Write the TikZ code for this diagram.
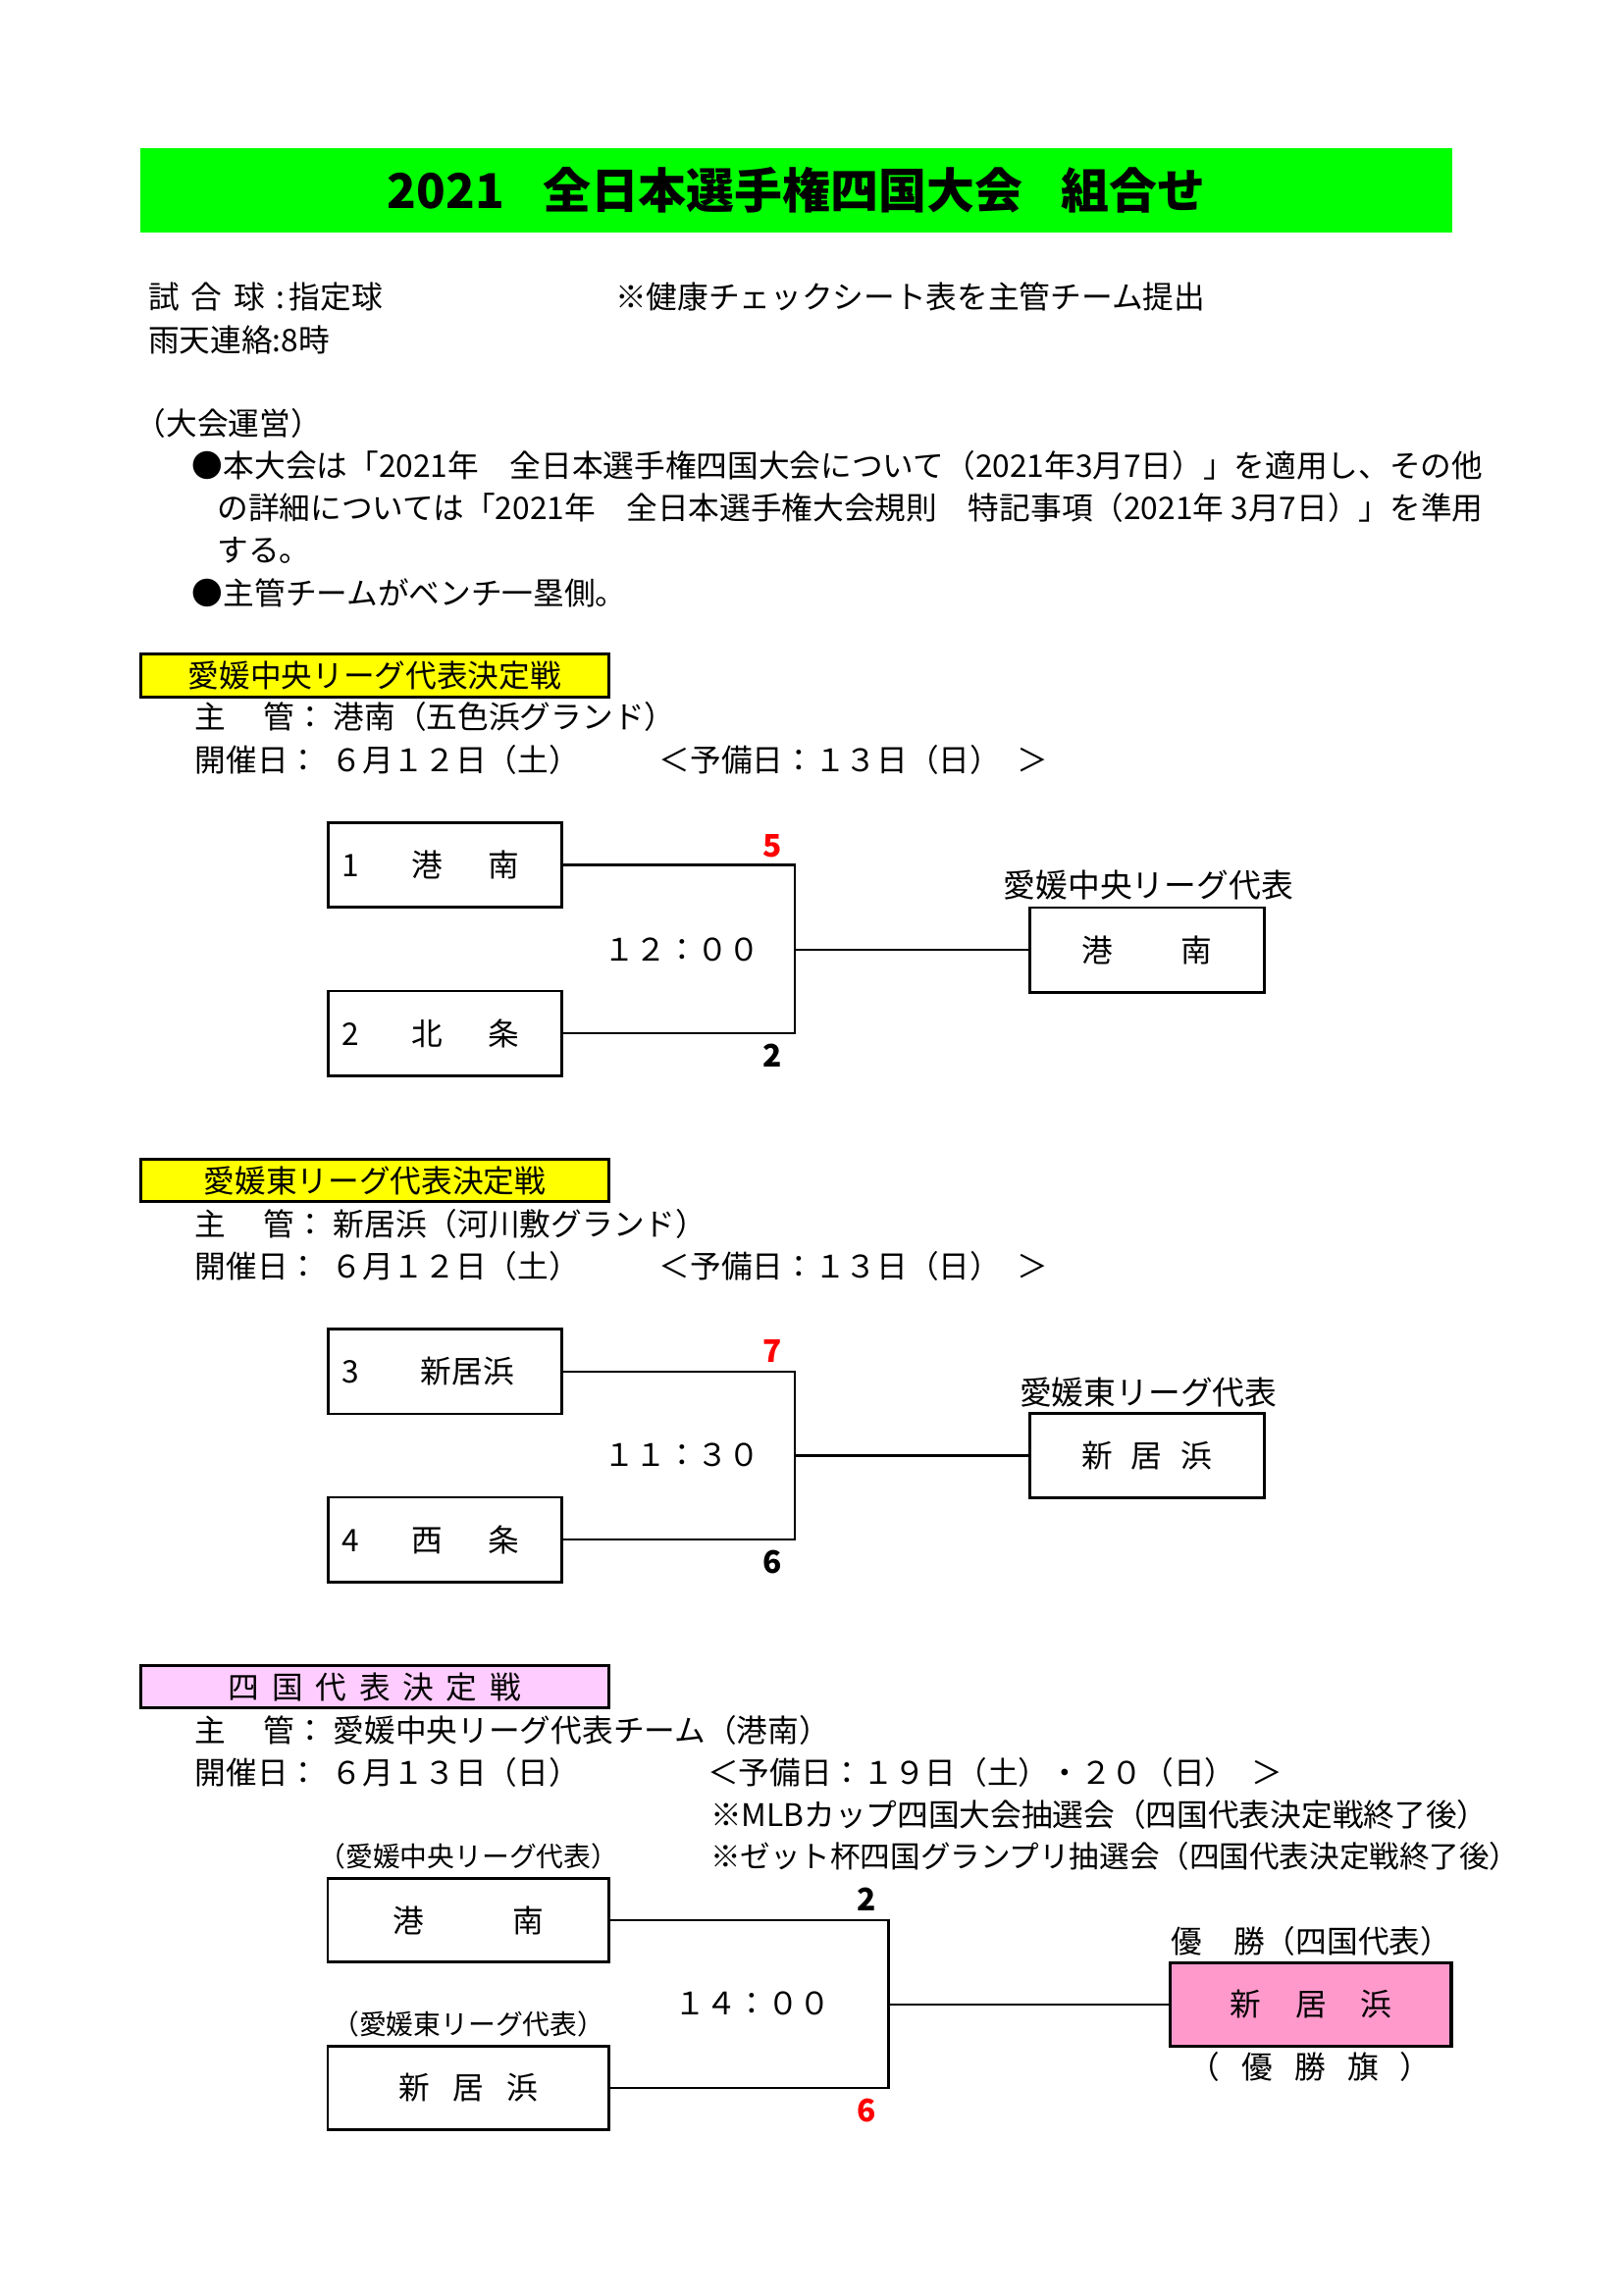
\documentclass[tikz,border=0pt]{standalone}
\usepackage{fontspec}
\setmainfont{Noto Sans CJK JP}
\usetikzlibrary{positioning}
\definecolor{titlegreen}{HTML}{00FF00}
\definecolor{headyellow}{HTML}{FFFF00}
\definecolor{headpink}{HTML}{FFCCFF}
\definecolor{winpink}{HTML}{FF99CC}
\definecolor{scorered}{HTML}{FF0000}
\newcommand{\jSize}[1]{\fontsize{#1pt}{#1pt}\selectfont}

\begin{document}
\begin{tikzpicture}[x=0.5368pt,y=-0.5368pt,
  txt/.style={anchor=west, inner sep=0pt, font=\jSize{11.4}},
  ctr/.style={inner sep=0pt, font=\jSize{11.4}},
  score/.style={inner sep=0pt, font=\jSize{11.4}\bfseries},
  headbox/.style={draw, line width=1.1pt, minimum width=171.8pt, minimum height=15.6pt, inner sep=0pt, font=\jSize{11.4}},
  teambox/.style={draw, line width=1pt, minimum width=85.9pt, minimum height=31.1pt, inner sep=0pt, font=\jSize{11.4}},
  teamboxL/.style={teambox, text width=75.9pt, inner xsep=5pt, align=left},
  finalbox/.style={draw, line width=1pt, minimum width=103.1pt, minimum height=30.6pt, inner sep=0pt, font=\jSize{11.4}},
  bracket/.style={line width=0.8pt}]
\useasboundingbox (0,0) rectangle (1109,1568);
\node[fill=titlegreen, minimum width=481pt, minimum height=31.1pt, inner sep=0pt, font=\jSize{17.6}\bfseries] (title) at (544,130) {2021\hspace{0.8em}全日本選手権四国大会\hspace{0.8em}組合せ};
\node[txt] (ball) at (101,203) {試\hspace{0.38em}合\hspace{0.38em}球\hspace{0.35em}:\hspace{0.15em}指定球};
\node[txt] (check) at (420,203) {※健康チェックシート表を主管チーム提出};
\node[txt] (rain) at (101,232) {雨天連絡:8時};
\node[txt] (ops) at (92,289) {（大会運営）};
\node[txt] (ops1) at (131,318) {●本大会は「2021年\hspace{1em}全日本選手権四国大会について（2021年3月7日）」を適用し、その他};
\node[txt] (ops2) at (148,347) {の詳細については「2021年\hspace{1em}全日本選手権大会規則\hspace{1em}特記事項（2021年 3月7日）」を準用};
\node[txt] (ops3) at (148,376) {する。};
\node[txt] (ops4) at (131,405) {●主管チームがベンチ一塁側。};
\node[headbox, fill=headyellow] (headA) at (256,461.5) {愛媛中央リーグ代表決定戦};
\node[txt] (hostA) at (133,490) {主\hspace{1.2em}管：\hspace{0.25em}港南（五色浜グランド）};
\node[txt] (dateA) at (133,519) {開催日：\hspace{0.37em}６月１２日（土）};
\node[txt] (spareA) at (450,519) {＜予備日：１３日（日）\hspace{0.5em}＞};
\node[teamboxL] (teamA1) at (304,591) {1\hspace{1.7em}港\hspace{1.45em}南};
\node[teamboxL] (teamA2) at (304,706) {2\hspace{1.7em}北\hspace{1.45em}条};
\node[teambox] (winA) at (783.5,649) {港\hspace{2.2em}南};
\coordinate (joinA) at (543,649);
\draw[bracket] (teamA1.east) -| (joinA) |- (teamA2.east);
\draw[bracket] (joinA) -- (winA.west);
\node[ctr] (timeA) at (466,649) {１２：００};
\node[score, text=scorered] (scoreA1) at (528,578) {5};
\node[score] (scoreA2) at (528,721) {2};
\node[inner sep=0pt, font=\jSize{11.8}] (repA) at (784.5,605) {愛媛中央リーグ代表};
\node[headbox, fill=headyellow] (headB) at (256,806.5) {愛媛東リーグ代表決定戦};
\node[txt] (hostB) at (133,836) {主\hspace{1.2em}管：\hspace{0.25em}新居浜（河川敷グランド）};
\node[txt] (dateB) at (133,865) {開催日：\hspace{0.37em}６月１２日（土）};
\node[txt] (spareB) at (450,865) {＜予備日：１３日（日）\hspace{0.5em}＞};
\node[teamboxL] (teamB1) at (304,937) {3\hspace{2em}新居浜};
\node[teamboxL] (teamB2) at (304,1052) {4\hspace{1.7em}西\hspace{1.45em}条};
\node[teambox] (winB) at (783.5,994.5) {新\hspace{0.6em}居\hspace{0.6em}浜};
\coordinate (joinB) at (543,994.5);
\draw[bracket] (teamB1.east) -| (joinB) |- (teamB2.east);
\draw[bracket] (joinB) -- (winB.west);
\node[ctr] (timeB) at (466,994) {１１：３０};
\node[score, text=scorered] (scoreB1) at (528,923) {7};
\node[score] (scoreB2) at (528,1067) {6};
\node[inner sep=0pt, font=\jSize{11.8}] (repB) at (784.5,951) {愛媛東リーグ代表};
\node[headbox, fill=headpink] (headC) at (256,1152.5) {四\hspace{0.4em}国\hspace{0.4em}代\hspace{0.4em}表\hspace{0.4em}決\hspace{0.4em}定\hspace{0.4em}戦};
\node[txt] (hostC) at (133,1182) {主\hspace{1.2em}管：\hspace{0.25em}愛媛中央リーグ代表チーム（港南）};
\node[txt] (dateC) at (133,1211) {開催日：\hspace{0.37em}６月１３日（日）};
\node[txt] (spareC) at (483,1211) {＜予備日：１９日（土）・２０（日）\hspace{0.5em}＞};
\node[txt] (drawC1) at (485,1240) {※MLBカップ四国大会抽選会（四国代表決定戦終了後）};
\node[txt, font=\jSize{11}] (drawC2) at (485,1268) {※ゼット杯四国グランプリ抽選会（四国代表決定戦終了後）};
\node[inner sep=0pt, font=\jSize{10}] (fromC1) at (320,1268) {（愛媛中央リーグ代表）};
\node[inner sep=0pt, font=\jSize{10}] (fromC2) at (320,1383) {（愛媛東リーグ代表）};
\node[finalbox] (teamC1) at (320,1312) {港\hspace{2.85em}南};
\node[finalbox] (teamC2) at (320,1426.5) {新\hspace{0.75em}居\hspace{0.75em}浜};
\node[finalbox, fill=winpink, line width=1.2pt] (winC) at (895.5,1369.5) {新\hspace{1.1em}居\hspace{1.1em}浜};
\coordinate (joinC) at (607,1369.5);
\draw[bracket] (teamC1.east) -| (joinC) |- (teamC2.east);
\draw[bracket] (joinC) -- (winC.west);
\node[ctr] (timeC) at (514,1369) {１４：００};
\node[score] (scoreC1) at (592,1298) {2};
\node[score, text=scorered] (scoreC2) at (592,1442) {6};
\node[txt] (champC) at (800,1326) {優\hspace{1em}勝（四国代表）};
\node[ctr] (flagC) at (895,1412) {（\hspace{0.7em}優\hspace{0.7em}勝\hspace{0.7em}旗\hspace{0.7em}）};
\end{tikzpicture}
\end{document}
